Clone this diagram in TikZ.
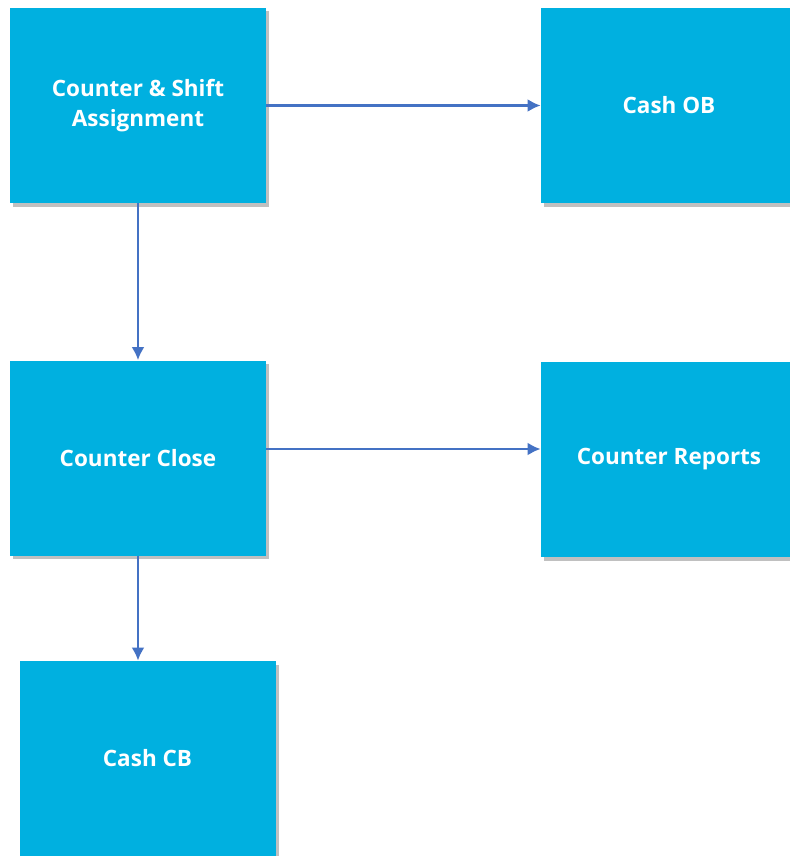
\documentclass[tikz,border=0pt]{standalone}
\usepackage{fontspec}
\setmainfont{Open Sans}
\usepackage{tikz}
\usetikzlibrary{arrows.meta, shadows, calc, positioning}
\definecolor{boxcyan}{HTML}{00B0E0}
\definecolor{arrowblue}{HTML}{4472C4}
\tikzset{
 stepbox/.style={rectangle, fill=boxcyan, minimum width=5.12cm, minimum height=3.9cm,
  text=white, align=center, font=\fontsize{12.8}{17.5}\selectfont\bfseries,
  drop shadow={shadow xshift=0.06cm, shadow yshift=-0.07cm, opacity=0.45, fill=black!55}},
 flow/.style={draw=arrowblue, line width=1.6pt, -{Latex[length=2.6mm, width=2.6mm]}}
}
\begin{document}
\begin{tikzpicture}
 \useasboundingbox (0,0) rectangle (15.8,-17.12);
 \clip (0,0) rectangle (15.8,-17.12);
 \node[stepbox] (assign) at (2.76,-2.11) {Counter \& Shift\\Assignment};
 \node[stepbox] (cashob) at (13.38,-2.11) {Cash OB};
 \node[stepbox] (close) at (2.76,-9.16) {Counter Close};
 \node[stepbox] (reports) at (13.38,-9.19) {Counter Reports};
 \node[stepbox] (cashcb) at (2.95,-15.17) {Cash CB};
 \draw[flow] (assign.east) -- (assign.east -| cashob.west);
 \draw[flow] (assign.south) -- (assign.south |- close.north);
 \draw[flow] ([yshift=0.18cm]close.east) -- ([yshift=0.18cm]close.east -| reports.west);
 \draw[flow] (close.south) -- (close.south |- cashcb.north);
\end{tikzpicture}
\end{document}
